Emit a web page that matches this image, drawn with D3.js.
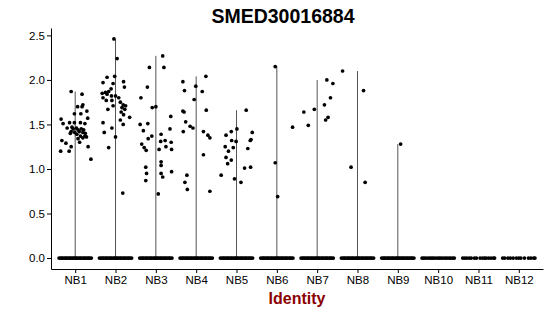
<!DOCTYPE html>
<html lang="en">
  <head>
    <meta charset="UTF-8" />
    <title>SMED30016884</title>
    <script src="https://cdn.jsdelivr.net/npm/d3@7"></script>
    <style>
      body { margin: 0; background: #fff; }
      text { font-family: "Liberation Sans", Arial, sans-serif; }
    </style>
  </head>
  <body>
    <svg id="svg" width="550" height="316"></svg>
    <script>
      const groups = ["NB1", "NB2", "NB3", "NB4", "NB5", "NB6", "NB7", "NB8", "NB9", "NB10", "NB11", "NB12"];
      const yTicks = [0, 0.5, 1, 1.5, 2, 2.5];

      // non-zero cells: [jitter (category units), expression]
      const nb1 = [[-0.10, 1.87], [0.17, 1.84], [0.17, 1.70], [0.06, 1.70], [0.19, 1.72], [0.29, 1.65], [-0.02, 1.62],
        [0.31, 1.57], [0.14, 1.62], [-0.35, 1.56], [-0.30, 1.51], [-0.14, 1.52], [-0.02, 1.52], [0.13, 1.52],
        [0.24, 1.51], [-0.20, 1.46], [-0.08, 1.47], [-0.05, 1.45], [0.03, 1.46], [0.07, 1.44], [0.15, 1.45],
        [0.21, 1.44], [-0.10, 1.42], [-0.01, 1.41], [0.10, 1.42], [0.19, 1.41], [0.25, 1.40], [-0.12, 1.40],
        [0.04, 1.39], [0.13, 1.37], [0.24, 1.37], [0.28, 1.36], [0.07, 1.34], [0.19, 1.35], [-0.33, 1.32],
        [-0.23, 1.29], [0.11, 1.30], [-0.10, 1.25], [0.32, 1.25], [-0.36, 1.20], [-0.15, 1.20], [0.39, 1.11]];
      const nb2 = [[-0.04, 2.46], [0.04, 2.24], [-0.21, 2.03], [-0.02, 2.04], [-0.31, 1.97], [-0.06, 1.96],
        [0.20, 1.98], [0.22, 1.92], [-0.11, 1.90], [-0.33, 1.85], [-0.25, 1.86], [-0.17, 1.87], [-0.21, 1.84],
        [-0.10, 1.82], [0.00, 1.82], [0.08, 1.80], [-0.31, 1.80], [-0.23, 1.77], [-0.09, 1.77], [0.12, 1.75],
        [0.19, 1.72], [0.25, 1.71], [-0.19, 1.67], [-0.06, 1.71], [0.16, 1.69], [0.23, 1.67], [0.14, 1.64],
        [0.20, 1.61], [0.35, 1.58], [0.12, 1.55], [0.19, 1.50], [-0.31, 1.52], [-0.28, 1.41], [-0.09, 1.46],
        [0.00, 1.36], [-0.17, 1.24], [0.18, 0.73]];
      const nb3 = [[0.17, 2.27], [0.20, 2.14], [-0.16, 2.14], [-0.21, 1.92], [-0.37, 1.80], [-0.09, 1.69],
        [0.00, 1.70], [0.37, 1.59], [-0.39, 1.50], [-0.20, 1.51], [-0.31, 1.43], [0.35, 1.45], [-0.10, 1.37],
        [-0.19, 1.34], [0.13, 1.39], [-0.35, 1.28], [0.12, 1.31], [0.23, 1.32], [0.38, 1.30], [0.25, 1.25],
        [0.39, 1.22], [-0.29, 1.24], [-0.24, 1.21], [0.08, 1.22], [0.13, 1.08], [0.13, 1.04], [-0.25, 1.02],
        [0.39, 0.97], [-0.23, 0.95], [0.13, 0.95], [0.17, 0.91], [-0.25, 0.87], [0.06, 0.72]];
      const nb4 = [[-0.33, 1.98], [-0.29, 1.88], [0.24, 2.04], [-0.01, 1.93], [0.15, 1.87], [-0.05, 1.78],
        [-0.33, 1.65], [-0.30, 1.64], [0.25, 1.66], [-0.26, 1.53], [-0.15, 1.48], [-0.08, 1.46], [-0.32, 1.42],
        [0.18, 1.42], [0.29, 1.38], [0.34, 1.35], [0.18, 1.16], [-0.23, 0.93], [-0.28, 0.85], [-0.22, 0.77],
        [0.34, 0.75]];
      const nb5 = [[0.24, 1.66], [0.01, 1.45], [-0.13, 1.42], [-0.26, 1.38], [0.39, 1.41], [-0.12, 1.32],
        [-0.01, 1.31], [0.36, 1.33], [0.34, 1.32], [-0.28, 1.25], [-0.08, 1.24], [0.28, 1.23], [-0.20, 1.20],
        [-0.26, 1.13], [-0.13, 1.10], [-0.22, 1.06], [0.20, 1.01], [0.35, 1.02], [-0.38, 0.93], [-0.05, 0.89],
        [0.11, 0.85]];
      const nb6 = [[-0.04, 2.15], [-0.04, 1.07], [0.02, 0.69], [0.39, 1.47]];
      const nb7 = [[-0.33, 1.64], [-0.22, 1.49], [-0.07, 1.67], [0.24, 2.00], [0.39, 1.96], [0.18, 1.72],
        [0.33, 1.80], [0.27, 1.58], [0.21, 1.55]];
      const nb8 = [[-0.37, 2.10], [0.15, 1.88], [-0.16, 1.02], [0.19, 0.85]];
      const nb9 = [[0.07, 1.28]];
      const nonZero = [nb1, nb2, nb3, nb4, nb5, nb6, nb7, nb8, nb9, [], [], []];

      // zero cells: jitter positions along the 0 line
      const zeroDense = [-0.4, -0.36, -0.33, -0.3, -0.26, -0.23, -0.2, -0.16, -0.13, -0.1, -0.06, -0.03, 0,
        0.03, 0.06, 0.1, 0.13, 0.16, 0.2, 0.23, 0.26, 0.3, 0.33, 0.36, 0.4];
      const zeroNB10 = [-0.4, -0.36, -0.32, -0.27, -0.22, -0.18, -0.14, -0.1, -0.05, 0, 0.04, 0.08, 0.13,
        0.18, 0.22, 0.27, 0.31, 0.36, 0.4];
      const zeroNB11 = [-0.39, -0.34, -0.29, -0.23, -0.18, -0.1, -0.05, 0.04, 0.1, 0.15, 0.19, 0.25, 0.31, 0.37, 0.4];
      const zeroNB12 = [-0.4, -0.35, -0.27, -0.21, -0.14, -0.06, 0, 0.05, 0.14, 0.24, 0.3, 0.37, 0.4];
      const zeroCells = [zeroDense, zeroDense, zeroDense, zeroDense, zeroDense, zeroDense, zeroDense,
        zeroDense, zeroDense, zeroNB10, zeroNB11, zeroNB12];

      const plotLeft = 51, plotRight = 543, plotTop = 28, plotBottom = 269;
      const svg = d3.select("#svg");

      const x = d3.scalePoint().domain(groups).range([plotLeft, plotRight]).padding(0.6);
      const step = x.step();

      const yMax = d3.max(nonZero.flat(), d => d[1]);
      const pad = yMax * 0.05;
      const y = d3.scaleLinear().domain([-pad, yMax + pad]).range([plotBottom, plotTop]);

      // violins (collapse to thin lines)
      svg.append("g")
        .selectAll("line")
        .data(groups.map((g, i) => ({ g, max: d3.max(nonZero[i], d => d[1]) })).filter(d => d.max))
        .enter()
        .append("line")
        .attr("x1", d => x(d.g))
        .attr("x2", d => x(d.g))
        .attr("y1", y(0))
        .attr("y2", d => y(d.max))
        .attr("stroke", "#555")
        .attr("stroke-width", 1);

      const pts = [];
      groups.forEach((g, i) => {
        zeroCells[i].forEach(j => pts.push({ g, j, v: 0 }));
        nonZero[i].forEach(d => pts.push({ g, j: d[0], v: d[1] }));
      });

      svg.append("g")
        .selectAll("circle")
        .data(pts)
        .enter()
        .append("circle")
        .attr("cx", d => x(d.g) + d.j * step)
        .attr("cy", d => y(d.v))
        .attr("r", 1.85)
        .attr("fill", "#000");

      const yAxis = svg.append("g")
        .attr("transform", `translate(${plotLeft},0)`)
        .call(d3.axisLeft(y).tickValues(yTicks).tickFormat(d3.format(".1f")).tickSize(4).tickSizeOuter(0).tickPadding(2));
      const xAxis = svg.append("g")
        .attr("transform", `translate(0,${plotBottom})`)
        .call(d3.axisBottom(x).tickSize(4).tickSizeOuter(0).tickPadding(3));

      [yAxis, xAxis].forEach(a => {
        a.selectAll("text").attr("font-size", 11.5).attr("fill", "#000")
          .attr("font-family", "'Liberation Sans', Arial, sans-serif");
        a.selectAll("line, path").attr("stroke", "#000");
      });

      svg.append("text")
        .attr("x", 283)
        .attr("y", 23)
        .attr("text-anchor", "middle")
        .attr("font-size", 19.5)
        .attr("font-weight", "bold")
        .text("SMED30016884");

      svg.append("text")
        .attr("x", (plotLeft + plotRight) / 2)
        .attr("y", 304)
        .attr("text-anchor", "middle")
        .attr("font-size", 16)
        .attr("font-weight", "bold")
        .attr("fill", "#8b0000")
        .text("Identity");
    </script>
  </body>
</html>
